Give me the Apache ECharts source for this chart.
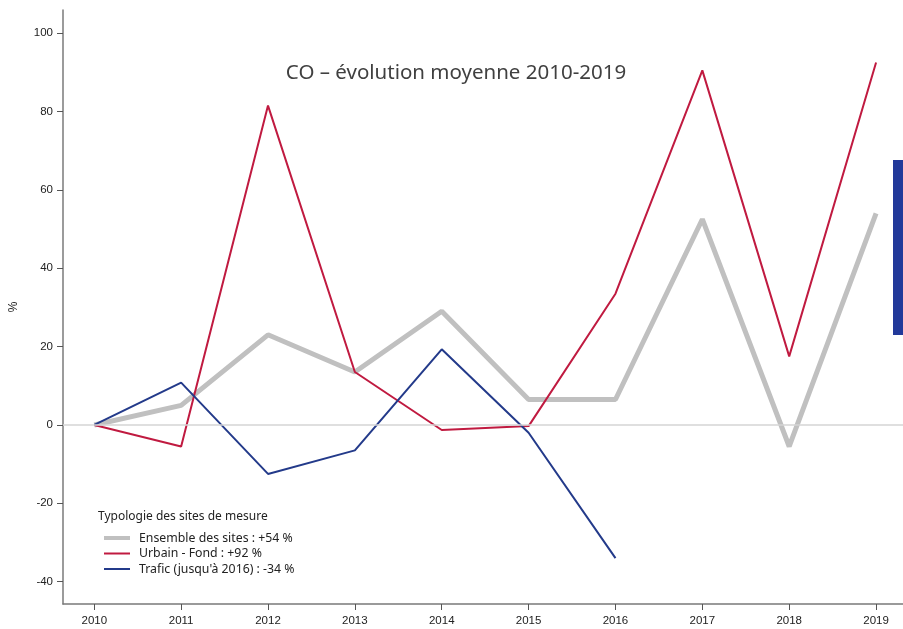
<!DOCTYPE html>
<html>
<head>
<meta charset="utf-8">
<style>
  html, body { margin: 0; padding: 0; background: #fff; }
  #main { width: 903px; height: 629px; }
</style>
<script src="https://cdn.jsdelivr.net/npm/echarts@6/dist/echarts.min.js"></script>
</head>
<body>
<div id="main"></div>
<script>
// données
var years = [2010, 2011, 2012, 2013, 2014, 2015, 2016, 2017, 2018, 2019];
var ensemble = [0, 5, 23, 13.5, 29, 6.5, 6.5, 52.5, -5.5, 54];
var urbainFond = [0, -5.5, 81.5, 13.5, -1.3, -0.3, 33.5, 90.5, 17.5, 92.5];
var trafic = [0, 10.8, -12.5, -6.5, 19.3, -2, -34];
var yTicks = [-40, -20, 0, 20, 40, 60, 80, 100];
var seriesNames = ["Ensemble des sites : +54 %", "Urbain - Fond : +92 %", "Trafic (jusqu'à 2016) : -34 %"];

function toPairs(vals) {
  return vals.map(function (v, i) { return [years[i], v]; });
}

var chart = echarts.init(document.getElementById("main"));
var font = "'Noto Sans', 'Open Sans', sans-serif";
var axisFont = "'Liberation Sans', Arial, sans-serif";

var option = {
  animation: false,
  backgroundColor: "#fff",
  title: {
    text: "CO – évolution moyenne 2010-2019",
    left: 451,
    top: 58,
    textAlign: "center",
    textStyle: { fontFamily: font, fontSize: 20.5, fontWeight: "normal", color: "#404040" }
  },
  grid: { left: 63, right: 0, top: 10, bottom: 25, outerBoundsMode: "none" },
  legend: {
    orient: "vertical",
    left: 104,
    top: 532,
    padding: 0,
    itemWidth: 26,
    itemHeight: 12,
    itemGap: 3.5,
    data: [
      { name: seriesNames[0], icon: "path://M0,0H26V4H0Z" },
      { name: seriesNames[1], icon: "path://M0,0H26V2H0Z" },
      { name: seriesNames[2], icon: "path://M0,0H26V2H0Z" }
    ],
    textStyle: { fontFamily: font, fontSize: 12.3, color: "#222", padding: [0, 0, 0, 4] }
  },
  graphic: [
    {
      type: "text",
      left: 98,
      top: 511,
      style: { text: "Typologie des sites de mesure", fontFamily: font, fontSize: 12, fill: "#222" }
    },
    {
      type: "rect",
      left: 893,
      top: 160,
      shape: { width: 10, height: 175 },
      style: { fill: "#22399a" }
    }
  ],
  xAxis: {
    type: "value",
    min: 2009.64,
    max: 2019.31,
    axisLine: { onZero: false, lineStyle: { color: "#7a7a7a", width: 1.5 } },
    axisTick: { customValues: years, length: 6, lineStyle: { color: "#555" } },
    axisLabel: {
      customValues: years,
      margin: 11,
      fontFamily: axisFont,
      fontSize: 11.5,
      color: "#222",
      formatter: function (v) { return String(v); }
    },
    splitLine: { show: false }
  },
  yAxis: {
    type: "value",
    min: -45.7,
    max: 105.9,
    name: "%",
    nameLocation: "middle",
    nameGap: 43,
    nameRotate: 90,
    nameTextStyle: { fontFamily: axisFont, fontSize: 12, color: "#222" },
    axisLine: { show: true, lineStyle: { color: "#7a7a7a", width: 1.5 } },
    axisTick: { show: true, customValues: yTicks, length: 6, lineStyle: { color: "#555" } },
    axisLabel: {
      customValues: yTicks,
      margin: 10,
      fontFamily: axisFont,
      fontSize: 11.5,
      color: "#222"
    },
    splitLine: { show: false }
  },
  series: [
    {
      name: seriesNames[0],
      type: "line",
      symbol: "none",
      data: toPairs(ensemble),
      lineStyle: { color: "#c0c0c0", width: 5 },
      itemStyle: { color: "#c0c0c0" },
      z: 2,
      markLine: {
        silent: true,
        symbol: "none",
        label: { show: false },
        lineStyle: { color: "#d4d4d4", width: 1.5, type: "solid" },
        data: [{ yAxis: 0 }]
      }
    },
    {
      name: seriesNames[1],
      type: "line",
      symbol: "none",
      data: toPairs(urbainFond),
      lineStyle: { color: "#c01a40", width: 2 },
      itemStyle: { color: "#c01a40" },
      z: 3
    },
    {
      name: seriesNames[2],
      type: "line",
      symbol: "none",
      data: toPairs(trafic),
      lineStyle: { color: "#233a8a", width: 2 },
      itemStyle: { color: "#233a8a" },
      z: 4
    }
  ]
};

chart.setOption(option);
</script>
</body>
</html>
